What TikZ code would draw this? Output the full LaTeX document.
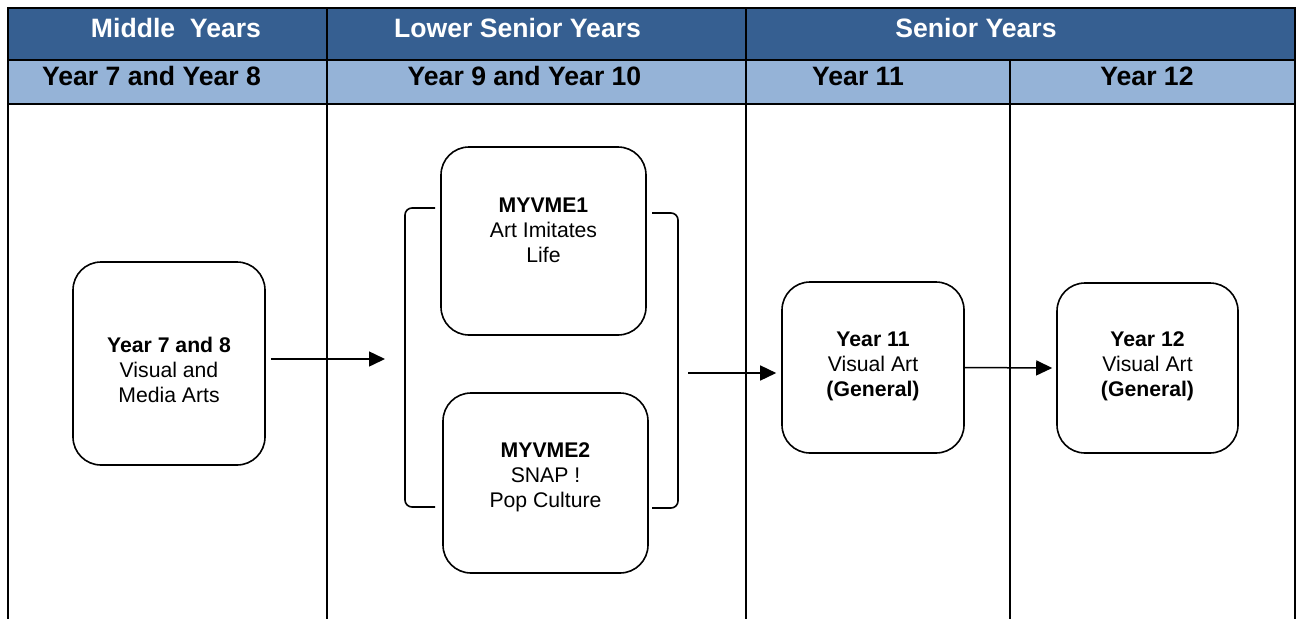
\documentclass[tikz,border=0pt]{standalone}
\usepackage{fontspec}
\setmainfont{Liberation Sans}
\usetikzlibrary{arrows.meta,calc}
\definecolor{hdrdark}{HTML}{365F91}
\definecolor{hdrlight}{HTML}{95B3D7}
\begin{document}
\begin{tikzpicture}[x=1pt,y=-1pt,
  rule/.style={line width=2pt,black},
  hdrtop/.style={font=\fontsize{26.6}{30}\selectfont\bfseries, text=white, anchor=base, inner sep=0pt},
  hdrsub/.style={font=\fontsize{26.6}{30}\selectfont\bfseries, text=black, anchor=base, inner sep=0pt},
  stage/.style={draw, line width=1.6pt, rounded corners=28pt, inner sep=0pt},
  stagetext/.style={font=\fontsize{21.2}{25}\selectfont, align=center, inner sep=0pt},
  flow/.style={line width=1.5pt, -{Triangle[length=16pt,width=15pt]}},
  brace/.style={line width=1.6pt, rounded corners=7pt}]

\useasboundingbox (0,0) rectangle (1298,619);

% header bands
\fill[hdrdark] (8,8) rectangle (1295,60);
\fill[hdrlight] (8,60) rectangle (1295,104);

% table rules
\draw[rule] (8,8) -- (1295,8);
\draw[rule] (8,60) -- (1295,60);
\draw[rule] (8,104) -- (1295,104);
\draw[rule] (8,7) -- (8,619);
\draw[rule] (1295,7) -- (1295,619);
\draw[rule] (327,8) -- (327,619);
\draw[rule] (746,8) -- (746,619);
\draw[rule] (1010,60) -- (1010,619);

% header texts
\node[hdrtop] (hmid) at (176,37) {Middle\ \ Years};
\node[hdrtop] (hlow) at (517.5,37) {Lower Senior Years};
\node[hdrtop] (hsen) at (976,37) {Senior Years};
\node[hdrsub] (h78) at (151.5,85) {Year 7 and Year 8};
\node[hdrsub] (h910) at (524.5,85) {Year 9 and Year 10};
\node[hdrsub] (h11) at (858,85) {Year 11};
\node[hdrsub] (h12) at (1147,85) {Year 12};

% course boxes
\node[stage, minimum width=192pt, minimum height=203pt] (y78) at (169,363.5) {};
\node[stage, minimum width=205pt, minimum height=188pt] (m1) at (543.5,241) {};
\node[stage, minimum width=205pt, minimum height=180pt] (m2) at (545.5,483) {};
\node[stage, minimum width=182pt, minimum height=171pt] (y11) at (873,367.5) {};
\node[stage, minimum width=181pt, minimum height=170pt] (y12) at (1147.5,368) {};

% box texts
\node[stagetext] (y78t) at (169,369.5) {\textbf{Year 7 and 8}\\Visual and\\Media Arts};
\node[stagetext] (m1t) at (543.5,230) {\textbf{MYVME1}\\Art Imitates\\Life};
\node[stagetext] (m2t) at (545.5,477) {\textbf{MYVME2}\\SNAP !\\Pop Culture};
\node[stagetext] (y11t) at (873,366) {\textbf{Year 11}\\Visual Art\\\textbf{(General)}};
\node[stagetext] (y12t) at (1147.5,366) {\textbf{Year 12}\\Visual Art\\\textbf{(General)}};

% brackets grouping the two electives
\draw[brace] (435,208) -- (405,208) -- (405,507) -- (435,507);
\draw[brace] (652,213) -- (678,213) -- (678,508) -- (652,508);

% flow arrows
\coordinate (groupin) at (385,359);
\coordinate (groupout) at (688,373);
\draw[flow] ([xshift=5pt,yshift=4.5pt]y78.east) -- (groupin);
\draw[flow] (groupout) -- ([xshift=-5pt,yshift=-5.5pt]y11.west);
\draw[flow] (y11.east) -- ([xshift=-4pt]y12.west);
\end{tikzpicture}
\end{document}
